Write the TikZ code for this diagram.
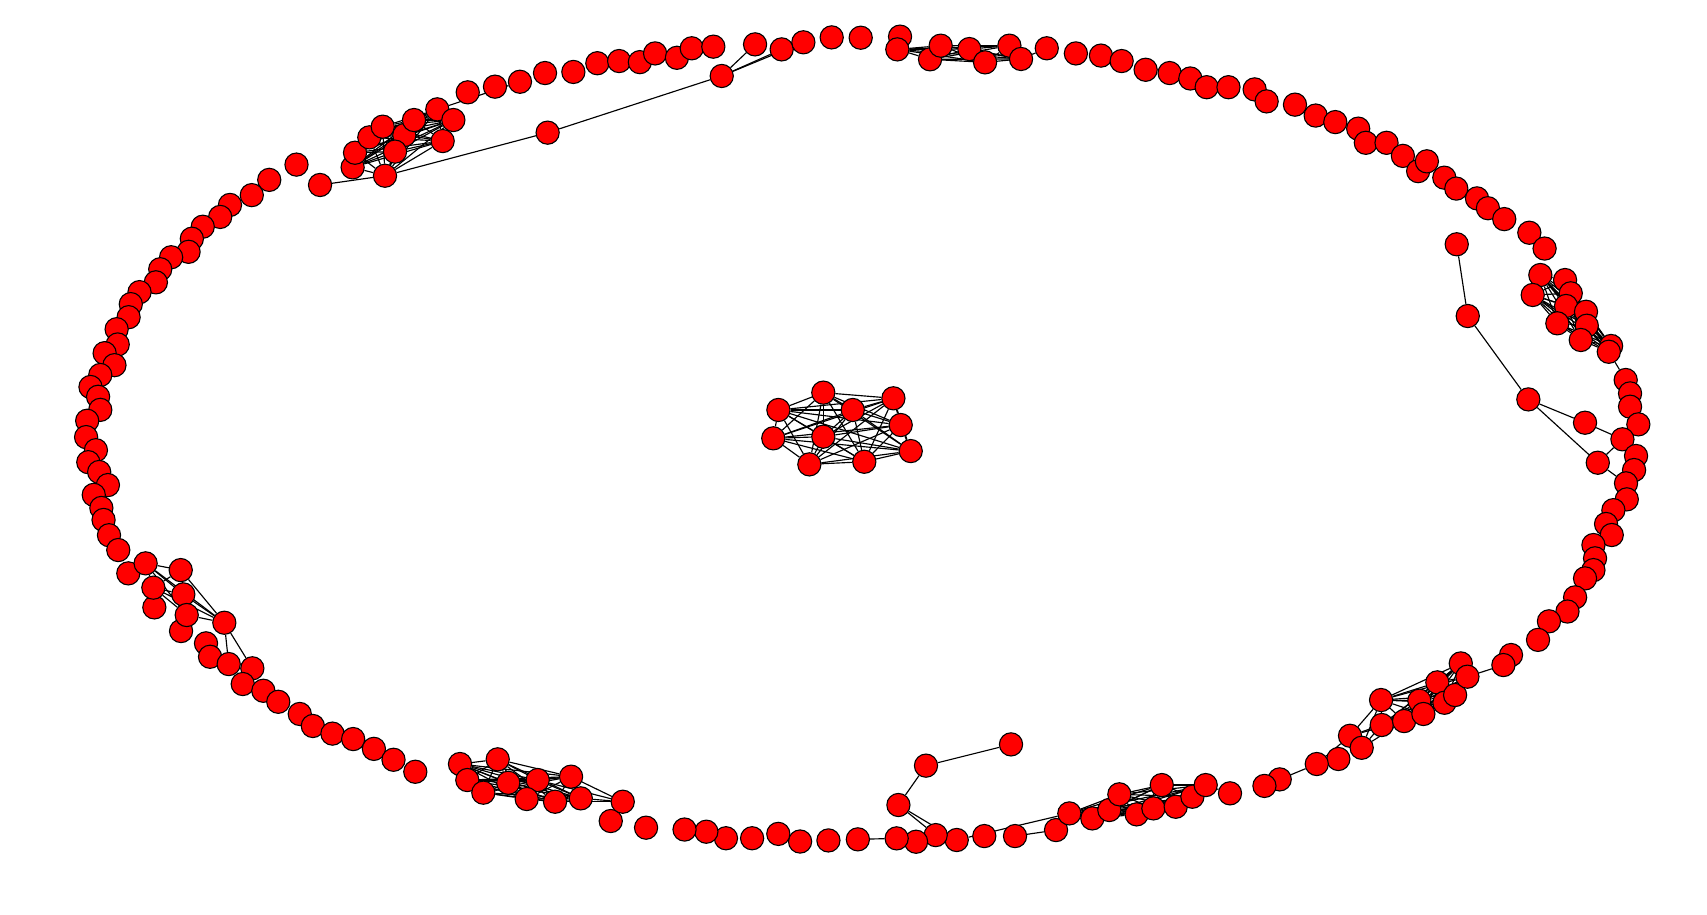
\documentclass[tikz,border=0pt]{standalone}
\pgfdeclarelayer{edges}
\pgfsetlayers{edges,main}
\newcommand{\allpairs}[2]{%
  \foreach \i in {1,...,#2}{%
    \foreach \j in {1,...,#2}{%
      \ifnum\i<\j\relax \draw[link] (#1\i) -- (#1\j);\fi}}}

\begin{document}
\begin{tikzpicture}[x=1pt,y=-1pt,
  vertex/.style={circle,draw=black,fill=red,line width=1pt,minimum size=21.3pt,inner sep=0pt},
  link/.style={black,line width=1.05pt}]
\useasboundingbox (0,0) rectangle (1566,839);

\foreach \x/\y [count=\i] in {714.1/376.1,755.3/360.2,782.3/376.1,819.6/365.4,826.3/389.9,835.5/413.8,792.9/423.6,742.5/426,709.4/402.1,755.3/400.6}
  \node[vertex] (c\i) at (\x,\y) {};

\foreach \x/\y [count=\i] in {323.5/153.5,325.7/140.1,338.8/126,351.1/116.2,370.9/123.9,362.4/139.1,353.2/161.2,379.8/110.1,401.2/100.3,415.9/110.1,406.1/129.4}
  \node[vertex] (tl\i) at (\x,\y) {};
\node[vertex] (p2) at (502.4,121.7) {};
\node[vertex] (p3) at (662.1,69.7) {};

\foreach \x/\y [count=\i] in {429.1/84.7,454.1/79.5,477/75,500/67,526/66,548/58,568/56,587/57,601/49,621/53,634.6/44.3,654.4/42.8,692.7/40.7,717.1/45.3,737/38.8,763/34.3,789.6/34.6,825.7/33.6}
  \node[vertex] (t\i) at (\x,\y) {};

\foreach \x/\y [count=\i] in {823.2/45.3,853.2/54.4,863/41.9,889.3/45,903.7/57.2,926/41.9,936.7/54.1}
  \node[vertex] (tm\i) at (\x,\y) {};

\foreach \x/\y [count=\i] in {960.3/44.3,987/49,1010/51,1029/56,1051/64,1073/67,1092/72,1107/80,1127/80,1151/82,1162/93,1188/96,1207/106,1225/112,1246/118,1253/131,1272/131,1287/143,1301/157,1309/148,1325/163,1336/173,1355/182,1365/191,1380/201,1403/213.5,1417/228}
  \node[vertex] (n\i) at (\x,\y) {};

\foreach \x/\y [count=\i] in {1413.1/252.3,1406.1/270.6,1435.8/256.9,1441/269.1,1436.7/280.7,1455/286,1455.7/298.8,1428.7/296.6,1450.2/311.9,1478/317.4,1475.9/322.7}
  \node[vertex] (ru\i) at (\x,\y) {};

\foreach \x/\y [count=\i] in {1336.4/224.1,1346.5/289.9,1402.1/366.4,1454.1/387.8,1465.8/424.5}
  \node[vertex] (q\i) at (\x,\y) {};

\foreach \x/\y [count=\i] in {1491.4/348.6,1495.4/360.9,1495.4/373.1,1503/389.3,1488.4/403,1500.9/418.3,1499.1/431.2,1491.7/443.4,1492.4/458.1,1480.1/468,1473.4/480.7,1478.6/490.8,1461.8/500,1463.3/512.2,1461.8/523,1454.1/530.6,1445/548,1438/561,1421/570,1411/587,1386.2/600.9,1379.2/610.1}
  \node[vertex] (r\i) at (\x,\y) {};

\foreach \x/\y [count=\i] in {1267/642.2,1267.6/665.1,1288.1/661.5,1302.1/642.8,1305.8/655,1318.6/626,1325.1/644.7,1334.9/637.6,1340.1/608.6,1346.2/620.8,1238.5/675,1249.2/686}
  \node[vertex] (br\i) at (\x,\y) {};

\foreach \x/\y [count=\i] in {1227.8/696.3,1208/700.9,1174/715,1160/721,1128.4/727.8,968.8/761.5,931.2/767,903/767,877.7/770.6,858.4/766.1,840.4/772.2,822.6/769.1,787/770,760/771,734/772,714/765,690/769,666/769,648/763,628/761,592.7/759.3,560.3/753.2,571.3/735.5}
  \node[vertex] (b\i) at (\x,\y) {};

\foreach \x/\y [count=\i] in {981/746.2,1002.1/750.8,1017.7/743.1,1026.9/728.7,1042.8/747.1,1058.1/741.6,1065.8/720.2,1078.6/740.1,1093.9/730.9,1106.1/720.2}
  \node[vertex] (bm\i) at (\x,\y) {};

\foreach \x/\y [count=\i] in {927.5/682.9,849.5/702.4,824.2/738.5}
  \node[vertex] (s\i) at (\x,\y) {};

\foreach \x/\y [count=\i] in {422/700.9,428.7/715.6,443.4/727.2,456.6/696.6,466.3/718.1,493.3/715.6,483.2/733,509.2/735.5,523.9/712.5,532.8/732.4}
  \node[vertex] (bl\i) at (\x,\y) {};

\foreach \x/\y [count=\i] in {293.6/169.7,272/151,247/165,231/179,211/188,202/199,186/208,176/219,173/231,157/236,147/247,143/259,128/268,120/279,118/291,107/302,108/316,96/324,105/335,92/344,83/355,90/364,92/376,80/386,79/401,88/413,81/424,91/433,99/445,86/454,93/466,95/477,100/491,108.5/504.6,117.7/526,141.6/557.2,166.1/578.9,189/590.2,192.7/602.5,209.8/609.2,231.5/613.1,222.7/627.5,241.6/633.7,255.3/643.8,275/655,287/666,305/673,324/678,343/687,361/697,381/708}
  \node[vertex] (w\i) at (\x,\y) {};

\foreach \x/\y [count=\i] in {133.6/516.8,140.7/539.1,165.8/523,168.2/545.3,171.3/564.2,205.8/571.3}
  \node[vertex] (ll\i) at (\x,\y) {};

\begin{pgfonlayer}{edges}
\allpairs{c}{10}
\allpairs{tl}{11}
\allpairs{tm}{7}
\allpairs{ru}{11}
\allpairs{br}{10}
\allpairs{bm}{10}
\allpairs{bl}{10}
\allpairs{ll}{6}
\draw[link] (w1) -- (tl7) -- (p2) -- (p3) -- (t13);
\draw[link] (p3) -- (t14);
\draw[link] (p3) -- (t15);
\draw[link] (tl9) -- (t3);
\draw[link] (tm7) -- (n1);
\draw[link] (ru11) -- (r1);
\draw[link] (q1) -- (q2) -- (q3) -- (q4) -- (r5);
\draw[link] (q3) -- (q5) -- (r5);
\draw[link] (q5) -- (r8);
\foreach \k in {1,2,3} {
  \draw[link] (br11) -- (br\k);
  \draw[link] (br12) -- (br\k);
}
\draw[link] (b2) -- (br11);
\draw[link] (b3) -- (b2);
\draw[link] (br10) -- (r22);
\draw[link] (bm10) -- (b5);
\draw[link] (s1) -- (s2) -- (s3) -- (b10);
\draw[link] (s3) -- (b9) -- (bm1);
\draw[link] (b7) -- (b6);
\draw[link] (b13) -- (b12);
\foreach \k in {6,8,9,10}
  \draw[link] (b23) -- (bl\k);
\draw[link] (ll6) -- (w40);
\draw[link] (ll6) -- (w41);
\end{pgfonlayer}
\end{tikzpicture}
\end{document}
